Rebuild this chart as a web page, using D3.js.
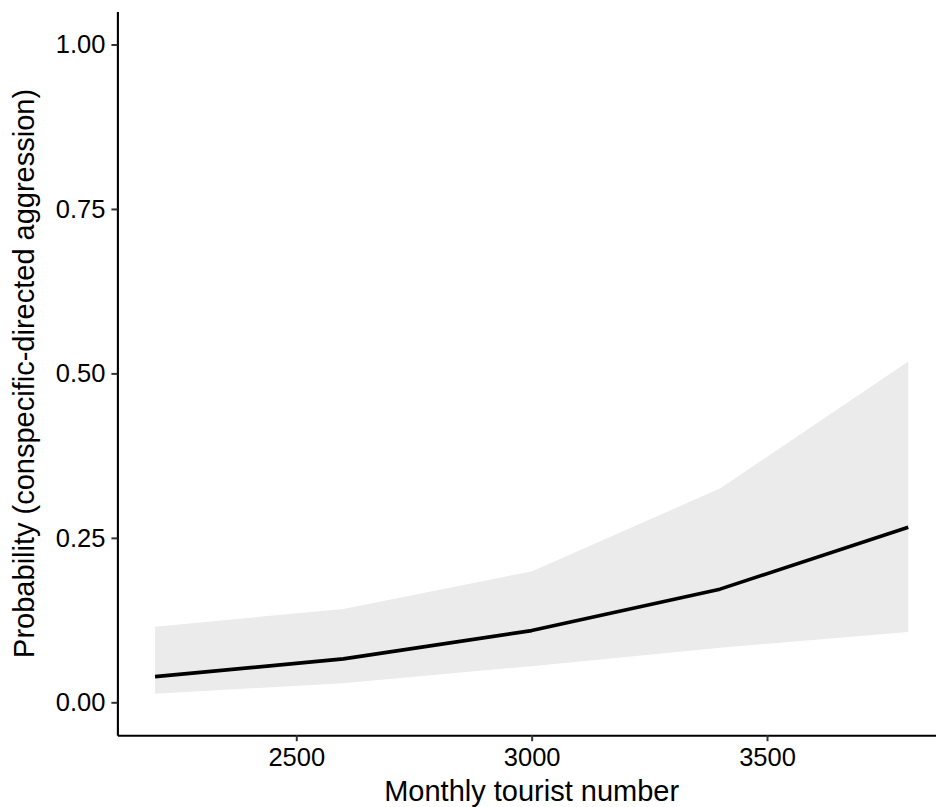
<!DOCTYPE html>
<html>
<head>
<meta charset="utf-8">
<script src="https://cdn.jsdelivr.net/npm/d3@7"></script>
<style>
  html, body { margin: 0; padding: 0; background: #fff; }
  svg { display: block; font-family: "Liberation Sans", Arial, sans-serif; }
</style>
</head>
<body>
<svg id="chart" width="936" height="807"></svg>
<script>
// Predicted probability of conspecific-directed aggression by monthly tourist number
const touristNumber = [2200, 2600, 3000, 3400, 3800];
const fitted = [0.039, 0.066, 0.109, 0.172, 0.266];
const upperCI = [0.115, 0.142, 0.199, 0.325, 0.518];
const lowerCI = [0.013, 0.029, 0.055, 0.083, 0.107];
const xTicks = [2500, 3000, 3500];
const yTicks = [0, 0.25, 0.5, 0.75, 1];

const svg = d3.select("#chart");

const x = d3.scaleLinear().domain([2120, 3880]).range([117.4, 945.9]);
const y = d3.scaleLinear().domain([-0.05, 1.05]).range([735.2, 11.6]);

const rows = touristNumber.map((t, i) => ({ t, fit: fitted[i], lo: lowerCI[i], hi: upperCI[i] }));

// confidence ribbon
svg.append("path")
  .datum(rows)
  .attr("fill", "#EBEBEB")
  .attr("d", d3.area().x(d => x(d.t)).y0(d => y(d.lo)).y1(d => y(d.hi)));

// fitted line
svg.append("path")
  .datum(rows)
  .attr("fill", "none")
  .attr("stroke", "#000")
  .attr("stroke-width", 3.6)
  .attr("stroke-linejoin", "round")
  .attr("d", d3.line().x(d => x(d.t)).y(d => y(d.fit)));

// axes
const xAxis = d3.axisBottom(x).tickValues(xTicks).tickFormat(d3.format("d"))
  .tickSize(6).tickSizeOuter(0).tickPadding(7);
const yAxis = d3.axisLeft(y).tickValues(yTicks).tickFormat(d3.format(".2f"))
  .tickSize(6).tickSizeOuter(0).tickPadding(6);

const gx = svg.append("g").attr("transform", "translate(0,735.2)").call(xAxis);
const gy = svg.append("g").attr("transform", "translate(117.4,0)").call(yAxis);

[gx, gy].forEach(g => {
  g.select(".domain").attr("stroke", "#000").attr("stroke-width", 2.1);
  g.selectAll(".tick line").attr("stroke", "#333").attr("stroke-width", 2);
  g.selectAll(".tick text").attr("fill", "#000").style("font-size", "25.5px")
    .style("font-family", "'Liberation Sans', Arial, sans-serif");
});

// axis titles
svg.append("text")
  .attr("x", (x.range()[0] + x.range()[1]) / 2)
  .attr("y", 801)
  .attr("text-anchor", "middle")
  .style("font-size", "29px")
  .attr("fill", "#000")
  .text("Monthly tourist number");

svg.append("text")
  .attr("transform", `translate(34,${(y.range()[0] + y.range()[1]) / 2}) rotate(-90)`)
  .attr("text-anchor", "middle")
  .style("font-size", "29px")
  .attr("fill", "#000")
  .text("Probability (conspecific-directed aggression)");
</script>
</body>
</html>
